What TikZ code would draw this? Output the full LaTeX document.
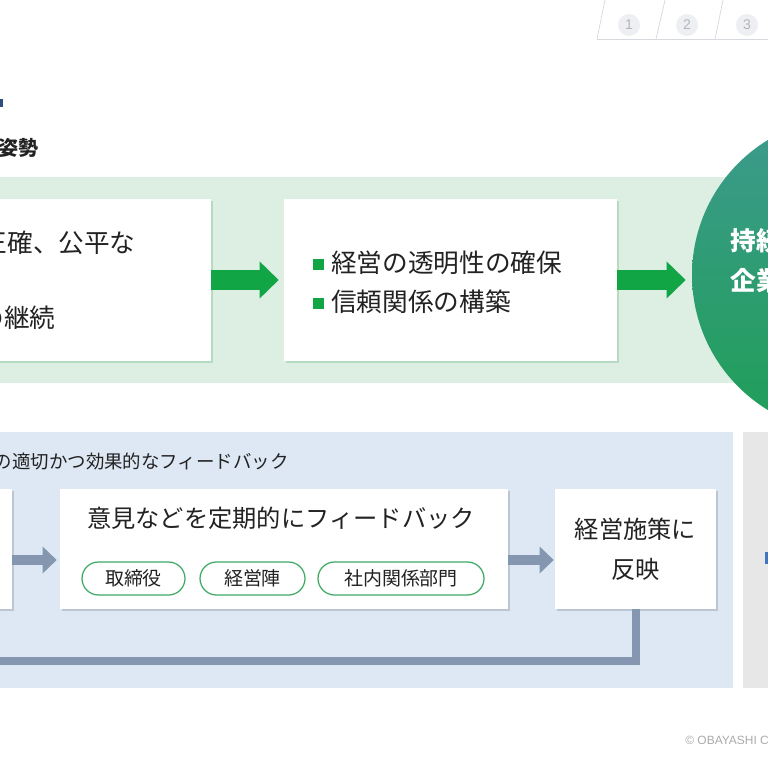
\documentclass[tikz,border=0pt]{standalone}
\usepackage{fontspec}
\setmainfont{Noto Sans CJK JP}
\newfontfamily\latinfont{Liberation Sans}
\usetikzlibrary{arrows.meta,shadows}

\definecolor{bandgreen}{HTML}{DCEFE2}
\definecolor{arrowgreen}{HTML}{12A546}
\definecolor{shadegreen}{HTML}{B5DCC0}
\definecolor{panelblue}{HTML}{DEE8F4}
\definecolor{panelgray}{HTML}{E7E7E7}
\definecolor{arrowslate}{HTML}{8597B0}
\definecolor{shadeslate}{HTML}{BCC6D3}
\definecolor{pillgreen}{HTML}{3FAA66}
\definecolor{circtop}{HTML}{3D9A8E}
\definecolor{circbot}{HTML}{1F9F57}
\definecolor{tabgray}{HTML}{D6D9DD}
\definecolor{tabfill}{HTML}{EDEFF2}
\definecolor{tabtext}{HTML}{B2B6BB}
\definecolor{titleblue}{HTML}{2F4E7C}
\definecolor{linkblue}{HTML}{3F76C0}
\definecolor{textdark}{HTML}{222222}

\newcommand\fhead{\fontsize{11.4pt}{13pt}\selectfont\bfseries}
\newcommand\fbig{\fontsize{14.6pt}{22.2pt}\selectfont}
\newcommand\fmid{\fontsize{13.8pt}{22.8pt}\selectfont}
\newcommand\fsub{\fontsize{10.5pt}{12pt}\selectfont}
\newcommand\fpill{\fontsize{10.8pt}{12pt}\selectfont}
\newcommand\sqbullet{\textcolor{arrowgreen}{\rule[0.08em]{0.42em}{0.42em}}\hspace{0.28em}}

\tikzset{
  topbox/.style={fill=white, minimum height=32.4mm, inner sep=0pt,
    drop shadow={shadow xshift=0.4mm, shadow yshift=-0.4mm, fill=shadegreen, opacity=1}},
  botbox/.style={fill=white, minimum height=24mm, inner sep=0pt,
    drop shadow={shadow xshift=0.4mm, shadow yshift=-0.4mm, fill=shadeslate, opacity=1}},
  greenarrow/.style={draw=arrowgreen, line width=4mm,
    -{Triangle[length=3.8mm, width=7.4mm, line width=0pt]}},
  slatearrow/.style={draw=arrowslate, line width=2mm,
    -{Triangle[length=2.8mm, width=5.4mm, line width=0pt]}},
  pill/.style={draw=pillgreen, line width=0.25mm, fill=white, rounded corners=3.3mm,
    minimum height=6.6mm, inner sep=0pt, font=\fpill, text=textdark},
  tab/.style={circle, fill=tabfill, minimum size=4.4mm, inner sep=0pt,
    text=tabtext, font=\latinfont\fontsize{8pt}{8pt}\selectfont},
}

\begin{document}
\begin{tikzpicture}[x=0.2mm, y=-0.2mm, text=textdark]
    \useasboundingbox (0,0) rectangle (768,768);
    \clip (0,0) rectangle (768,768);
    \fill[white] (0,0) rectangle (768,768);

    % Page tabs
    \draw[tabgray] (597,39) -- (768,39);
    \foreach \t/\b in {605/597, 665/656, 723/715}
        \draw[tabgray] (\t,0) -- (\b,39);
    \foreach \x/\n in {629/1, 687/2, 747/3}
        \node[tab] (tab\n) at (\x,25) {\n};

    % Heading
    \fill[titleblue] (0,99) rectangle (3,107);
    \node[anchor=east, inner sep=0pt, font=\fhead] (head) at (39,148) {姿勢};

    % Upper band
    \fill[bandgreen] (-10,177) rectangle (768,383);
    \node[topbox, minimum width=48.2mm] (basis) at (90.5,280) {};
    \node[topbox, minimum width=66.6mm] (trust) at (450.5,280) {};
    \node[anchor=east, inner sep=0pt, font=\fbig] (basisa) at (136,243) {正確、公平な};
    \node[anchor=east, inner sep=0pt, font=\fbig] (basisb) at (56,318) {の継続};
    \node[anchor=west, inner sep=0pt, align=left, font=\fbig] (trusttext) at (313,282)
        {\sqbullet 経営の透明性の確保\\ \sqbullet 信頼関係の構築};

    % Goal circle
    \node[circle, minimum size=63.2mm, inner sep=0pt, top color=circtop, bottom color=circbot] (goal) at (850,275) {};
    \node[anchor=west, inner sep=0pt, text=white, font=\fbig\bfseries] (goala) at (730,241) {持続};
    \node[anchor=west, inner sep=0pt, text=white, font=\fbig\bfseries] (goalb) at (730,281) {企業};

    % Green arrows
    \draw[greenarrow, shorten >=1mm] (basis.east) -- (trust.west);
    \draw[greenarrow, shorten >=1.2mm] (trust.east) -- (trust.east -| goal.west);

    % Lower panels
    \fill[panelblue] (-10,432) rectangle (733,688);
    \fill[panelgray] (743,432) rectangle (778,688);
    \fill[linkblue] (765,552) rectangle (768,564);
    \node[anchor=east, inner sep=0pt, font=\fsub] (subhead) at (289,461) {の適切かつ効果的なフィードバック};

    \node[botbox, minimum width=8.4mm] (source) at (-9,549) {};
    \node[botbox, minimum width=89.6mm] (feedback) at (284,549) {};
    \node[botbox, minimum width=32.2mm, align=center, font=\fmid] (reflect) at (635.5,549) {経営施策に\\反映};
    \node[font=\fmid, inner sep=0pt] (fbtext) at (281,518) {意見などを定期的にフィードバック};

    % Recipients
    \node[pill, minimum width=20.6mm] (board) at (133.5,578.5) {取締役};
    \node[pill, minimum width=21mm] (mgmt) at (252.5,578.5) {経営陣};
    \node[pill, minimum width=33.2mm] (depts) at (401,578.5) {社内関係部門};

    % Slate arrows and loop
    \draw[slatearrow, shorten >=0.6mm] ([yshift=-2.2mm]source.east) -- ([yshift=-2.2mm]feedback.west);
    \draw[slatearrow, shorten >=0.2mm] ([yshift=-2.2mm]feedback.east) -- ([yshift=-2.2mm]reflect.west);
    \coordinate (loopend) at (-20,661);
    \draw[arrowslate, line width=1.6mm] (reflect.south) |- (loopend);

    % Footer
    \node[anchor=west, inner sep=0pt, text=black!33, font=\latinfont\fontsize{6.8pt}{7pt}\selectfont] (copy) at (685,740) {© OBAYASHI C};
\end{tikzpicture}
\end{document}
